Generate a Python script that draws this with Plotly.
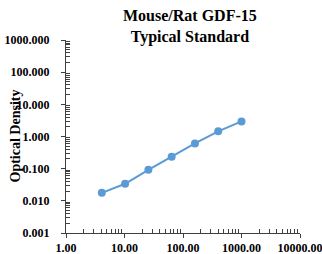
import plotly.graph_objects as go

concentration = [4.096, 10.24, 25.6, 64, 160, 400, 1000]
optical_density = [0.0177, 0.034, 0.092, 0.236, 0.61, 1.45, 2.95]

x_tickvals = [1, 10, 100, 1000, 10000]
x_ticktext = ["1.00", "10.00", "100.00", "1000.00", "10000.00"]
y_tickvals = [0.001, 0.01, 0.1, 1, 10, 100, 1000]
y_ticktext = ["0.001", "0.010", "0.100", "1.000", "10.000", "100.000", "1000.000"]

x_minor = [k * 10 ** d for d in range(0, 4) for k in range(2, 10)]
y_minor = [k * 10.0 ** d for d in range(-3, 3) for k in range(2, 10)]

font_family = "Liberation Serif, Times New Roman, serif"
axis_color = "#404040"

fig = go.Figure()
fig.add_trace(go.Scatter(
    x=concentration, y=optical_density, mode="lines+markers",
    line=dict(color="#5B9BD5", width=2),
    marker=dict(color="#5B9BD5", size=8),
))

fig.update_layout(
    width=322, height=254,
    margin=dict(l=66, r=22, t=40, b=21),
    paper_bgcolor="white", plot_bgcolor="white",
    showlegend=False,
    font=dict(family=font_family, color="black"),
    annotations=[
        dict(text="<b>Mouse/Rat GDF-15<br>Typical Standard</b>",
             xref="paper", yref="paper", x=0.53, y=1.07,
             xanchor="center", yanchor="middle", showarrow=False,
             font=dict(family=font_family, size=16, color="black")),
        dict(text="<b>Optical Density</b>",
             xref="paper", yref="paper", x=0, y=0.5, xshift=-51,
             xanchor="center", yanchor="middle", textangle=-90, showarrow=False,
             font=dict(family=font_family, size=14, color="black")),
    ],
)

fig.update_xaxes(
    type="log", range=[0, 4], automargin=False,
    tickvals=x_tickvals, ticktext=x_ticktext,
    tickfont=dict(size=12, family=font_family, weight="bold", color="black"),
    showline=True, linecolor=axis_color, linewidth=1,
    ticks="outside", ticklen=4, tickcolor=axis_color, ticklabelstandoff=0,
    ticklabeloverflow="allow",
    minor=dict(tickvals=x_minor, ticks="inside", ticklen=4, tickcolor=axis_color, showgrid=False),
    showgrid=False, zeroline=False,
)
fig.update_yaxes(
    type="log", range=[-3, 3], automargin=False,
    tickvals=y_tickvals, ticktext=y_ticktext,
    tickfont=dict(size=12, family=font_family, weight="bold", color="black"),
    showline=True, linecolor=axis_color, linewidth=1,
    ticks="outside", ticklen=4, tickcolor=axis_color, ticklabelstandoff=9,
    ticklabeloverflow="allow",
    minor=dict(tickvals=y_minor, ticks="inside", ticklen=4, tickcolor=axis_color, showgrid=False),
    showgrid=False, zeroline=False,
)

fig.write_html(
    "out.html",
    config={"displayModeBar": False},
    post_script="document.body.style.margin='0';document.body.style.overflow='hidden';",
)
